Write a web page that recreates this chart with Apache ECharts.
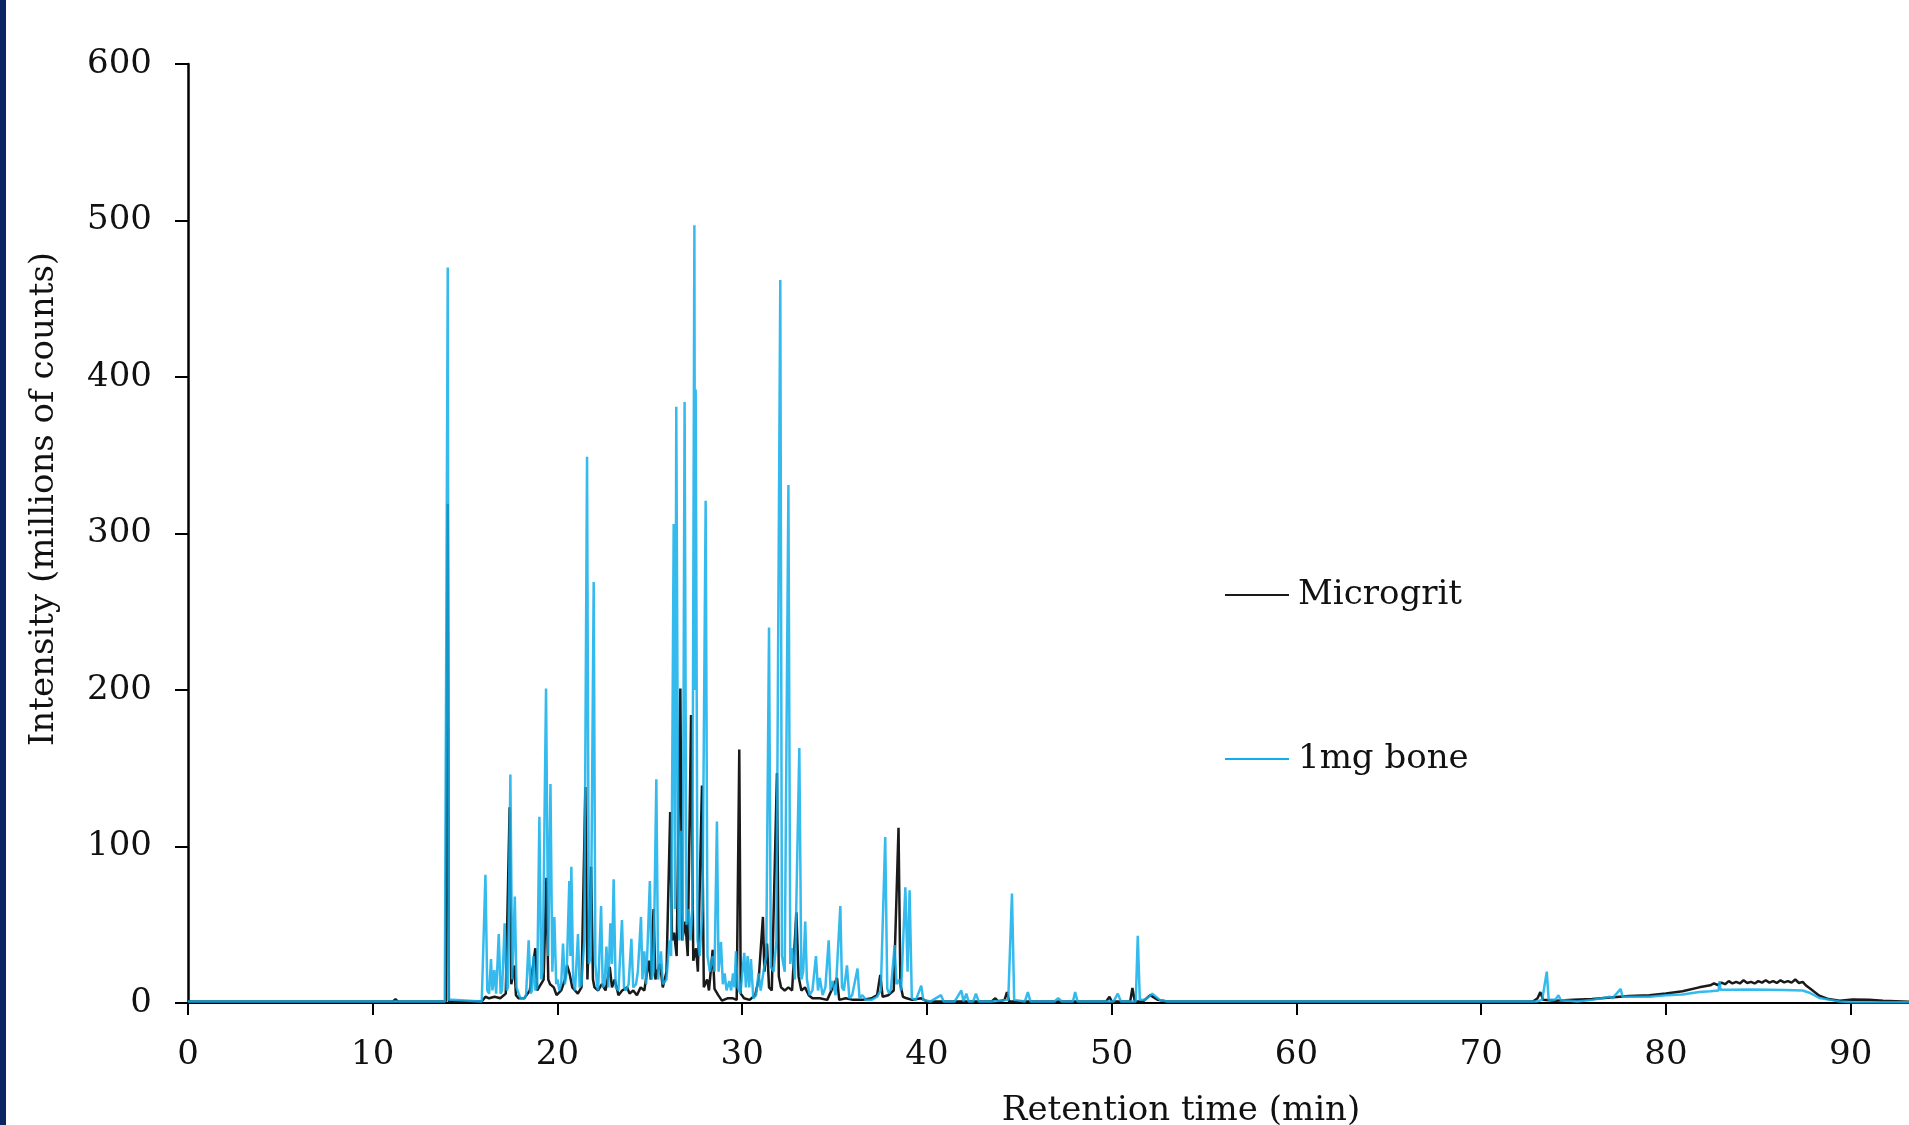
<!DOCTYPE html>
<html>
<head>
<meta charset="utf-8">
<script src="https://cdn.jsdelivr.net/npm/echarts@6/dist/echarts.min.js"></script>
<style>
  html, body { margin: 0; padding: 0; background: #fff; }
  #chart { width: 1909px; height: 1125px; }
</style>
</head>
<body>
<div id="chart"></div>
<script>
// [retention time (min), intensity (millions of counts)]
const seriesNames = ['Microgrit', '1mg bone'];
const xTicks = [0, 10, 20, 30, 40, 50, 60, 70, 80, 90];
const yTicks = [0, 100, 200, 300, 400, 500, 600];

const microgrit = [
  [0, 1], [11.1, 1], [11.23, 2.5], [11.35, 1], [13.95, 1], [14.06, 319], [14.12, 1], [15.9, 1],
  [16.0, 2], [16.1, 4], [16.3, 3], [16.6, 4], [16.9, 3], [17.2, 6], [17.41, 125], [17.5, 12],
  [17.6, 13], [17.67, 24], [17.75, 5], [17.9, 3], [18.2, 3], [18.5, 8], [18.8, 35], [18.9, 8],
  [19.0, 10], [19.25, 15], [19.4, 80], [19.5, 15], [19.6, 12], [19.8, 10], [19.95, 5], [20.2, 8],
  [20.4, 15], [20.52, 24], [20.65, 19], [20.8, 10], [20.95, 8], [21.1, 6], [21.3, 10], [21.51, 138],
  [21.62, 15], [21.82, 87], [21.92, 15], [22.0, 10], [22.2, 8], [22.4, 12], [22.6, 8], [22.83, 23],
  [22.95, 10], [23.1, 15], [23.3, 5], [23.5, 8], [23.77, 10], [23.9, 6], [24.1, 8], [24.3, 5],
  [24.5, 10], [24.7, 8], [24.94, 27], [25.05, 15], [25.2, 60], [25.3, 15], [25.4, 20], [25.55, 25],
  [25.7, 10], [25.9, 20], [26.1, 122], [26.2, 40], [26.31, 45], [26.45, 30], [26.65, 201], [26.75, 40],
  [26.92, 52], [27.05, 30], [27.23, 184], [27.35, 27], [27.5, 35], [27.6, 20], [27.82, 139], [27.92, 10],
  [28.1, 15], [28.2, 8], [28.4, 34], [28.5, 9], [28.7, 5], [28.9, 1.5], [29.2, 3], [29.5, 3],
  [29.7, 2], [29.84, 162], [29.92, 6], [30.1, 3], [30.4, 2], [30.7, 5], [30.89, 15], [31.12, 55],
  [31.2, 20], [31.34, 38], [31.45, 10], [31.6, 8], [31.88, 147], [31.98, 17], [32.1, 10], [32.3, 8],
  [32.5, 10], [32.7, 8], [32.93, 58], [33.05, 17], [33.2, 8], [33.4, 10], [33.6, 5], [33.8, 3],
  [34.2, 3], [34.6, 2], [35.13, 16], [35.25, 2], [35.6, 3], [36.0, 2], [36.5, 2], [37.0, 3],
  [37.3, 5], [37.47, 18], [37.6, 4], [37.9, 5], [38.2, 8], [38.46, 112], [38.56, 12], [38.7, 4],
  [38.9, 3], [39.2, 2], [39.69, 3], [40, 1], [41, 1], [43.5, 1], [43.7, 3], [43.85, 1],
  [44.2, 2], [44.33, 7], [44.45, 1], [45, 1], [49.7, 1], [49.88, 4], [50.0, 1], [51.0, 1],
  [51.12, 9.6], [51.25, 1], [51.7, 1], [52.08, 5], [52.5, 2], [53.0, 1], [55, 1], [60, 1],
  [65, 1], [70, 1], [72.8, 1], [73.05, 3], [73.2, 7], [73.35, 2], [74, 1.5], [75, 2],
  [76, 2.5], [77, 3.5], [78, 4.5], [79.1, 5], [80, 6], [80.9, 7.5], [81.8, 10], [82.4, 11.3],
  [82.6, 12.5], [82.8, 11.5], [83.0, 13], [83.2, 12], [83.4, 14], [83.6, 12.5], [83.8, 13.5], [84.0, 12.5],
  [84.2, 14.5], [84.4, 12.8], [84.6, 13.5], [84.8, 12.5], [85.0, 14], [85.2, 13], [85.4, 14.5], [85.6, 13],
  [85.8, 14], [86.0, 12.8], [86.2, 14.5], [86.4, 13.2], [86.6, 14], [86.8, 13], [87.0, 15], [87.2, 12.8],
  [87.4, 13.5], [87.6, 11], [87.8, 9.2], [88.3, 4.7], [88.8, 2.5], [89.4, 1.5], [90.1, 2.2], [91, 2],
  [91.75, 1.5], [93.2, 0.8]
];

const bone = [
  [0, 1], [13.9, 1], [14.0, 1], [14.06, 470], [14.12, 2], [14.3, 2], [14.4, 1], [15.9, 1],
  [16.0, 2], [16.1, 82], [16.2, 8], [16.3, 6], [16.4, 28], [16.48, 8], [16.58, 21], [16.68, 6],
  [16.82, 44], [16.92, 6], [17.0, 8], [17.14, 51], [17.25, 8], [17.32, 10], [17.45, 146], [17.55, 15],
  [17.69, 68], [17.78, 10], [17.9, 6], [18.0, 3], [18.2, 3], [18.3, 5], [18.44, 40], [18.55, 6],
  [18.62, 8], [18.7, 30], [18.8, 8], [18.9, 10], [19.02, 119], [19.12, 15], [19.2, 20], [19.38, 201],
  [19.5, 30], [19.62, 140], [19.72, 20], [19.83, 55], [19.93, 12], [20.0, 15], [20.1, 8], [20.2, 12],
  [20.3, 38], [20.4, 12], [20.5, 20], [20.64, 78], [20.7, 30], [20.75, 87], [20.85, 15], [20.95, 8],
  [21.11, 44], [21.2, 10], [21.3, 12], [21.45, 40], [21.6, 349], [21.7, 25], [21.8, 30], [21.96, 269],
  [22.05, 25], [22.15, 10], [22.2, 8], [22.36, 62], [22.45, 10], [22.55, 12], [22.65, 36], [22.75, 10],
  [22.86, 51], [22.95, 25], [23.04, 79], [23.15, 10], [23.3, 8], [23.49, 53], [23.6, 10], [23.7, 8],
  [23.85, 12], [24.0, 41], [24.1, 10], [24.25, 12], [24.35, 20], [24.52, 55], [24.6, 15], [24.7, 33],
  [24.8, 12], [25.0, 78], [25.1, 15], [25.2, 20], [25.35, 143], [25.45, 15], [25.6, 33], [25.7, 12],
  [25.9, 15], [26.06, 40], [26.15, 30], [26.29, 306], [26.36, 60], [26.43, 381], [26.55, 50], [26.6, 40],
  [26.7, 110], [26.78, 40], [26.88, 384], [26.98, 50], [27.1, 60], [27.2, 40], [27.3, 60], [27.41, 497],
  [27.45, 200], [27.48, 392], [27.58, 40], [27.7, 30], [27.85, 60], [28.02, 321], [28.12, 30], [28.25, 20],
  [28.4, 30], [28.5, 20], [28.63, 116], [28.72, 20], [28.85, 39], [28.95, 12], [29.05, 19], [29.15, 8],
  [29.3, 14], [29.4, 8], [29.5, 19], [29.58, 10], [29.66, 33], [29.75, 10], [29.9, 6], [30.11, 32],
  [30.2, 10], [30.29, 30], [30.38, 10], [30.47, 28], [30.6, 3], [30.75, 5], [30.88, 19], [31.0, 8],
  [31.15, 20], [31.3, 30], [31.45, 240], [31.55, 23], [31.7, 20], [31.85, 40], [32.06, 462], [32.15, 30],
  [32.3, 20], [32.5, 331], [32.6, 25], [32.7, 35], [32.85, 15], [33.09, 163], [33.2, 15], [33.3, 20],
  [33.41, 52], [33.5, 15], [33.65, 5], [33.8, 8], [33.99, 30], [34.1, 8], [34.2, 16], [34.35, 5],
  [34.5, 10], [34.68, 40], [34.78, 8], [34.9, 14], [35.05, 5], [35.31, 62], [35.4, 10], [35.5, 8],
  [35.67, 24], [35.8, 3], [35.95, 5], [36.24, 22], [36.35, 3], [36.5, 5], [36.7, 2], [37.0, 2],
  [37.3, 4], [37.5, 8], [37.74, 106], [37.85, 9], [37.95, 6], [38.05, 9], [38.25, 37], [38.35, 12],
  [38.5, 15], [38.6, 8], [38.83, 74], [38.95, 20], [39.06, 72], [39.18, 3], [39.4, 2], [39.69, 11],
  [39.8, 2], [40.2, 1], [40.76, 5], [40.9, 1], [41.5, 1], [41.86, 8], [41.98, 1], [42.13, 6],
  [42.25, 1], [42.5, 1], [42.65, 6], [42.8, 1], [43.5, 1], [44.4, 2], [44.6, 70], [44.72, 2],
  [45.3, 1], [45.46, 7], [45.6, 1], [46.9, 1], [47.1, 3], [47.3, 1], [47.9, 1], [48.02, 7],
  [48.15, 1], [50.1, 1], [50.33, 6], [50.5, 1], [51.3, 1], [51.41, 43], [51.52, 2], [51.8, 2],
  [52.2, 6], [52.6, 2], [53, 1], [55, 1], [60, 1], [65, 1], [70, 1], [73.0, 1],
  [73.3, 2], [73.55, 20], [73.65, 2], [74.0, 2], [74.18, 5], [74.3, 2], [75.2, 1], [76.0, 2],
  [76.97, 4], [77.1, 3], [77.55, 9], [77.65, 4], [78.5, 4], [79.1, 4], [80.0, 5], [80.9, 5.5],
  [81.8, 7], [82.4, 7.5], [82.85, 8], [82.9, 14], [82.95, 8.5], [83.5, 8.5], [84.6, 8.6], [85.5, 8.5],
  [86.4, 8.3], [87.4, 8], [87.8, 6.4], [88.3, 3.2], [88.9, 2], [89.4, 1], [90.1, 0.5], [91.5, 0.5],
  [93.2, 0.5]
];

const serif = '"DejaVu Serif", "Liberation Serif", serif';
const chart = echarts.init(document.getElementById('chart'));

chart.setOption({
  animation: false,
  backgroundColor: '#fff',
  textStyle: { fontFamily: serif },
  grid: {
    left: 188, top: 64, bottom: 122, right: -265,
    outerBoundsMode: 'none'
  },
  legend: {
    orient: 'vertical',
    left: 1220,
    top: 570,
    itemGap: 124,
    itemWidth: 64,
    itemHeight: 2,
    icon: 'rect',
    data: seriesNames,
    textStyle: { fontFamily: serif, fontSize: 34, color: '#111', lineHeight: 40, padding: [0, 0, 0, 4] }
  },
  xAxis: {
    type: 'value',
    min: 0,
    max: 107.5,
    interval: 10,
    name: 'Retention time (min)',
    nameLocation: 'middle',
    nameGap: 91,
    nameTextStyle: { fontFamily: serif, fontSize: 34, color: '#111' },
    axisLine: { show: true, onZero: false, lineStyle: { color: '#000', width: 2 } },
    axisTick: { show: true, length: 12, lineStyle: { color: '#000', width: 2 } },
    axisLabel: {
      margin: 35, fontFamily: serif, fontSize: 34, color: '#111',
      customValues: xTicks
    },
    splitLine: { show: false }
  },
  yAxis: {
    type: 'value',
    min: 0,
    max: 600,
    interval: 100,
    axisLine: { show: true, lineStyle: { color: '#000', width: 2.5 } },
    axisTick: { show: true, length: 13, lineStyle: { color: '#000', width: 2 } },
    axisLabel: {
      margin: 36, fontFamily: serif, fontSize: 34, color: '#111',
      customValues: yTicks
    },
    splitLine: { show: false }
  },
  graphic: [
    { type: 'rect', left: 0, top: 0, shape: { width: 6, height: 1125 }, style: { fill: '#0b2462' } },
    {
      type: 'text', x: 44, y: 499, rotation: Math.PI / 2,
      style: {
        text: 'Intensity (millions of counts)', fill: '#111',
        font: '34px "DejaVu Serif", serif', align: 'center', verticalAlign: 'middle'
      }
    }
  ],
  series: [
    {
      name: seriesNames[0],
      type: 'line',
      data: microgrit,
      showSymbol: false,
      symbol: 'none',
      lineStyle: { color: '#1a1a1a', width: 2.5 },
      itemStyle: { color: '#1a1a1a' },
      z: 2
    },
    {
      name: seriesNames[1],
      type: 'line',
      data: bone,
      showSymbol: false,
      symbol: 'none',
      lineStyle: { color: '#10aeea', width: 2.5, opacity: 0.85 },
      itemStyle: { color: '#10aeea' },
      z: 3
    }
  ]
});
</script>
</body>
</html>
